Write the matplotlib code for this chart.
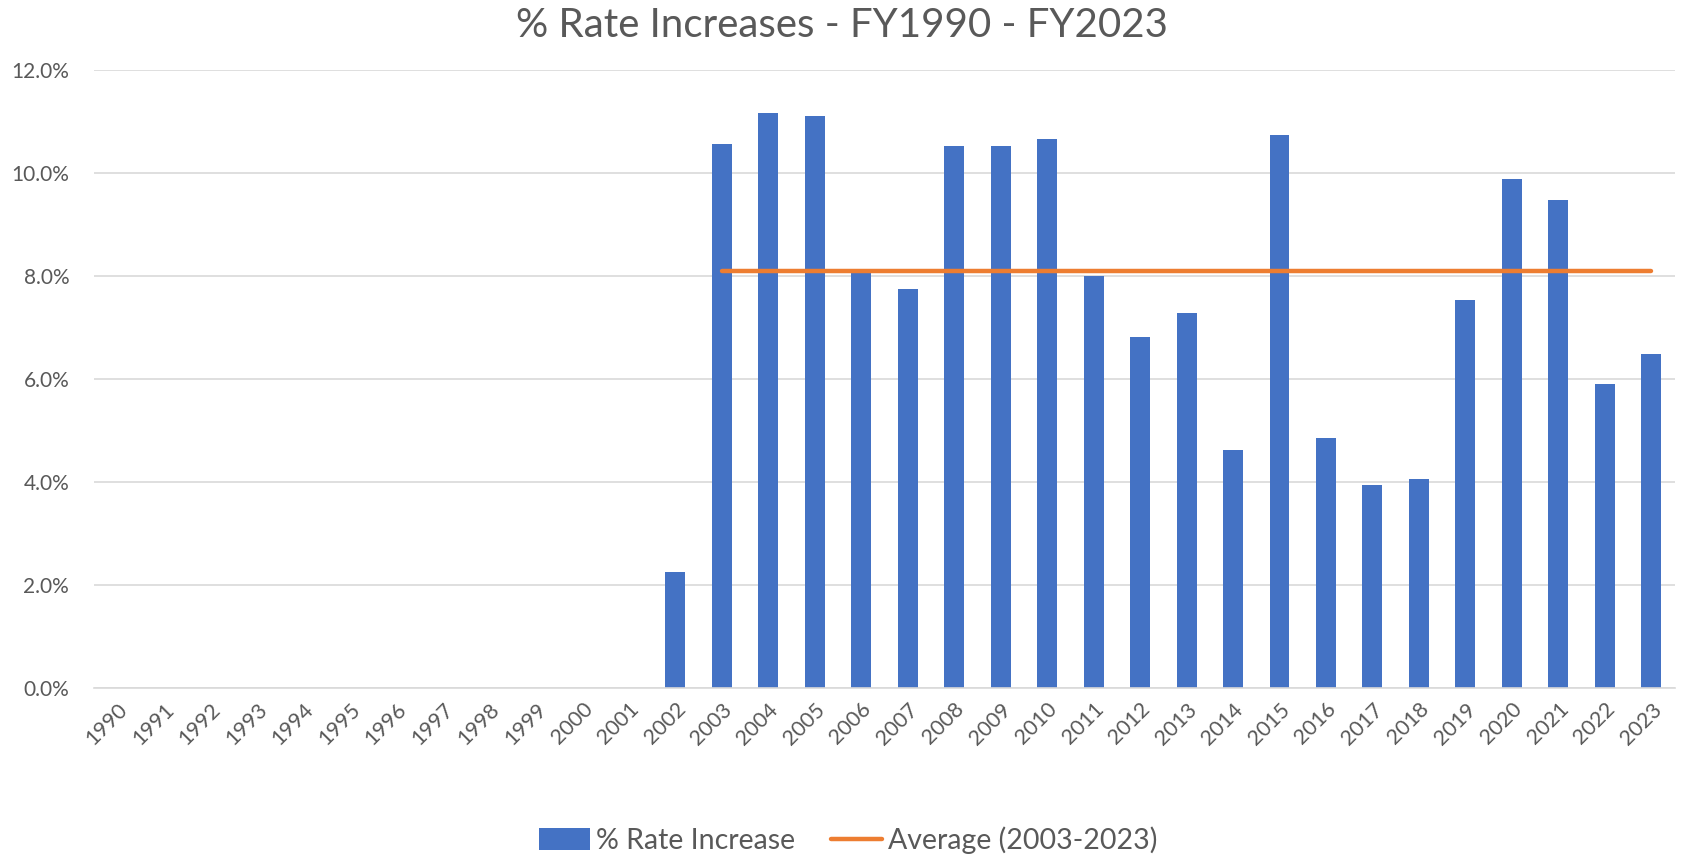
import matplotlib
matplotlib.use("Agg")
import matplotlib.pyplot as plt
from matplotlib.ticker import FuncFormatter, MultipleLocator

plt.rcParams['font.family'] = ['Lato', 'DejaVu Sans']

years = [str(y) for y in range(1990, 2024)]
rate_increase = [0, 0, 0, 0, 0, 0, 0, 0, 0, 0, 0, 0,
                 2.25, 10.56, 11.15, 11.10, 8.05, 7.75, 10.52, 10.52, 10.65,
                 7.99, 6.82, 7.28, 4.62, 10.73, 4.85, 3.94, 4.06, 7.53,
                 9.87, 9.47, 5.90, 6.48]
avg_years = [str(y) for y in range(2003, 2024)]
avg_value = 8.10

grey = '#595959'
fig = plt.figure(figsize=(16.83, 8.59), dpi=100)
ax = fig.add_axes([0.056, 0.199, 0.939, 0.72])

x = list(range(len(years)))
bars = ax.bar(x, rate_increase, width=0.43, color='#4472C4', label='% Rate Increase', zorder=2)
ax_idx = [years.index(y) for y in avg_years]
line, = ax.plot(ax_idx, [avg_value] * len(ax_idx), color='#ED7D31', lw=3.2,
                solid_capstyle='round', label='Average (2003-2023)', zorder=3)

ax.set_xlim(-0.5, len(years) - 0.5)
ax.set_ylim(0, 12)
ax.yaxis.set_major_locator(MultipleLocator(2))
ax.yaxis.set_major_formatter(FuncFormatter(lambda v, p: f'{v:.1f}%'))
ax.grid(axis='y', color='#d9d9d9', lw=1.2, zorder=0)
ax.set_axisbelow(True)
for s in ['top', 'right', 'left']:
    ax.spines[s].set_visible(False)
ax.spines['bottom'].set_color('#d9d9d9')
ax.spines['bottom'].set_linewidth(1.2)
ax.set_xticks(x)
ax.set_xticklabels(years, rotation=45, ha='right', rotation_mode='anchor')
ax.tick_params(axis='x', length=0, labelsize=15.5, colors=grey, pad=8)
ax.tick_params(axis='y', length=0, labelsize=15, colors=grey, pad=18)

fig.text(0.5, 0.97, '% Rate Increases - FY1990 - FY2023', ha='center', va='center',
         fontsize=29, color=grey)

leg = fig.legend([bars, line], ['% Rate Increase', 'Average (2003-2023)'],
                 loc='center', bbox_to_anchor=(0.504, 0.022), ncol=2, frameon=False,
                 fontsize=20.5, labelcolor=grey, handlelength=1.8, handleheight=0.8,
                 columnspacing=1.25, handletextpad=0.2)

fig.savefig('out.png', dpi=100)
